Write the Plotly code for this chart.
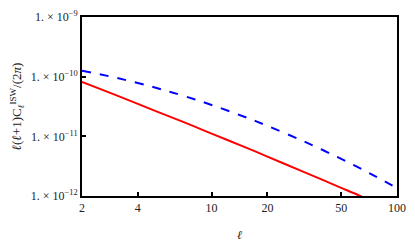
import plotly.graph_objects as go

ell = [2, 3, 4, 5, 6, 8, 10, 15, 20, 30, 40, 50, 60, 70, 80, 100]
red_vals = [8.2e-11, 5.0e-11, 3.5e-11, 2.65e-11, 2.12e-11, 1.48e-11, 1.11e-11, 6.65e-12,
            4.58e-12, 2.69e-12, 1.84e-12, 1.37e-12, 1.08e-12, 8.7e-13, 7.3e-13, 5.4e-13]
blue_vals = [1.26e-10, 9.7e-11, 7.83e-11, 6.52e-11, 5.55e-11, 4.22e-11, 3.36e-11, 2.13e-11,
             1.50e-11, 8.8e-12, 5.85e-12, 4.18e-12, 3.16e-12, 2.47e-12, 1.98e-12, 1.36e-12]

x_ticks = [2, 4, 10, 20, 50, 100]
x_ticktext = ["2", "4", "10", "20", "50", "100"]
y_ticks = [1e-12, 1e-11, 1e-10, 1e-9]
y_ticktext = ["1. × 10<sup>−12</sup>", "1. × 10<sup>−11</sup>", "1. × 10<sup>−10</sup>", "1. × 10<sup>−9</sup>"]

font = dict(family="Liberation Serif, Times New Roman, serif", size=12, color="#222")

fig = go.Figure()
fig.add_trace(go.Scatter(x=ell, y=red_vals, mode="lines",
                         line=dict(color="#ff0000", width=2), line_shape="spline"))
fig.add_trace(go.Scatter(x=ell, y=blue_vals, mode="lines",
                         line=dict(color="#0000ff", width=2, dash="dash"), line_shape="spline"))

fig.update_layout(
    width=415, height=249,
    margin=dict(l=82, r=10, t=9, b=42),
    paper_bgcolor="white", plot_bgcolor="white",
    showlegend=False,
    font=font,
    modebar=dict(bgcolor="rgba(0,0,0,0)", color="rgba(0,0,0,0)", activecolor="rgba(0,0,0,0)"),
    xaxis=dict(type="log", range=[0.30103, 2], tickvals=x_ticks, ticktext=x_ticktext,
               ticks="inside", ticklen=4, tickwidth=1.5, tickcolor="black",
               showline=True, linecolor="black", linewidth=2, mirror=True,
               showgrid=False, zeroline=False, ticklabeloverflow="allow",
               title=dict(text="<i>ℓ</i>", standoff=16, font=font)),
    yaxis=dict(type="log", range=[-12, -9], tickvals=y_ticks, ticktext=y_ticktext,
               ticks="inside", ticklen=4, tickwidth=1.5, tickcolor="black",
               showline=True, linecolor="black", linewidth=2, mirror=True,
               showgrid=False, zeroline=False, ticksuffix="&nbsp;",
               title=dict(text="<i>ℓ</i>(<i>ℓ</i>+1)C<sub><i>ℓ</i></sub><sup>ISW</sup>/(2<i>π</i>)",
                          standoff=6, font=dict(family=font["family"], size=13, color="#222"))),
)

fig.write_html(
    "out.html",
    post_script="document.body.style.margin='0';"
                "document.querySelectorAll('.modebar-container').forEach(function(e){e.style.display='none';});",
)
